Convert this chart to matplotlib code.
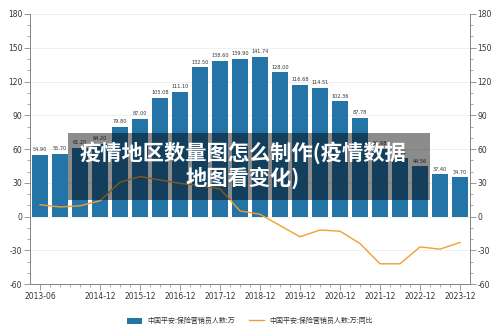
import matplotlib
matplotlib.use('Agg')
import matplotlib.pyplot as plt
from matplotlib.patches import Rectangle
from matplotlib.ticker import MultipleLocator
import numpy as np

plt.rcParams['font.family'] = ['Noto Sans CJK SC', 'DejaVu Sans']

# 半年度数据
periods = ['2013-06', '2013-12', '2014-06', '2014-12', '2015-06', '2015-12',
           '2016-06', '2016-12', '2017-06', '2017-12', '2018-06', '2018-12',
           '2019-06', '2019-12', '2020-06', '2020-12', '2021-06', '2021-12',
           '2022-06', '2022-12', '2023-06', '2023-12']
agents = [54.90, 55.70, 61.20, 64.20, 79.80, 87.00, 105.08, 111.10, 132.50, 138.60,
          139.90, 141.74, 128.00, 116.68, 114.51, 102.36, 87.78, 59.98, 51.81, 44.56,
          37.40, 34.70]
yoy = [10.5, 8.5, 9.5, 14.0, 30.5, 35.5, 32.5, 29.5, 27.5, 24.5, 5.0, 2.0,
       -8.0, -18.0, -12.0, -13.0, -24.0, -42.0, -42.0, -27.0, -29.0, -23.0]
tick_labels = ['2013-06', '2014-12', '2015-12', '2016-12', '2017-12', '2018-12',
               '2019-12', '2020-12', '2021-12', '2022-12', '2023-12']
title = '疫情地区数量图怎么制作(疫情数据\n地图看变化)'

bar_color = '#2474a8'
line_color = '#f0a030'
axis_color = '#888888'
text_color = '#333333'

fig = plt.figure(figsize=(5, 3.33), dpi=100)
ax = fig.add_axes([0.06, 0.147, 0.88, 0.811])
ax2 = ax.twinx()

x = np.arange(len(periods))
bars = ax.bar(x, agents, width=0.8, color=bar_color, zorder=2,
              label='中国平安:保险营销员人数:万')
for xi, v in zip(x, agents):
    ax.text(xi, v + 2.5, f'{v:.2f}', ha='center', va='bottom',
            fontsize=3.6, color=text_color, family='DejaVu Sans', zorder=3)

line, = ax2.plot(x, yoy, color=line_color, lw=1.0, zorder=3,
                 label='中国平安:保险营销员人数:万:同比')

for a in (ax, ax2):
    a.set_ylim(-60, 180)
    a.yaxis.set_major_locator(MultipleLocator(30))
    a.yaxis.set_minor_locator(MultipleLocator(10))
    a.tick_params(axis='y', which='major', length=4, width=0.6, color=axis_color,
                  labelsize=5.5, labelcolor=text_color, pad=1.5)
    a.tick_params(axis='y', which='minor', length=2, width=0.5, color=axis_color)
    for s in a.spines.values():
        s.set_color(axis_color)
        s.set_linewidth(0.7)
    a.spines['top'].set_visible(False)
ax.set_xlim(-0.5, len(periods) - 0.5)
ax.set_yticks(np.arange(-60, 181, 30))
ax2.set_yticks(np.arange(-60, 181, 30))
ax.set_yticklabels([str(v) for v in range(-60, 181, 30)], family='DejaVu Sans')
ax2.set_yticklabels([str(v) for v in range(-60, 181, 30)], family='DejaVu Sans')

ax.grid(axis='y', color='#eeeeee', lw=0.6, zorder=0)
ax.set_axisbelow(True)

tick_pos = [periods.index(p) for p in tick_labels]
ax.set_xticks(tick_pos)
ax.set_xticklabels(tick_labels, family='DejaVu Sans')
ax.set_xticks(np.arange(0, len(periods) - 0.5, 0.5), minor=True)
ax.tick_params(axis='x', which='major', length=4, width=0.6, color=axis_color,
               labelsize=5.5, labelcolor=text_color, pad=2)
ax.tick_params(axis='x', which='minor', length=2, width=0.5, color=axis_color)

# 半透明遮罩和标题文字
fig.patches.append(Rectangle((68 / 500, 1 - 200 / 333), 362 / 500, 67 / 333,
                             transform=fig.transFigure, facecolor='black',
                             alpha=0.45, zorder=10))
fig.text(0.485, 1 - 165 / 333, title, ha='center', va='center', color='white',
         fontsize=15.3, fontweight='bold', linespacing=1.15, zorder=11)

fig.legend(handles=[bars, line], loc='lower center', bbox_to_anchor=(0.5, 0.005),
           ncol=2, frameon=False, fontsize=5, handlelength=2.2, handleheight=1.0,
           columnspacing=2.0, labelcolor=text_color)

fig.savefig('out.png', dpi=100)
